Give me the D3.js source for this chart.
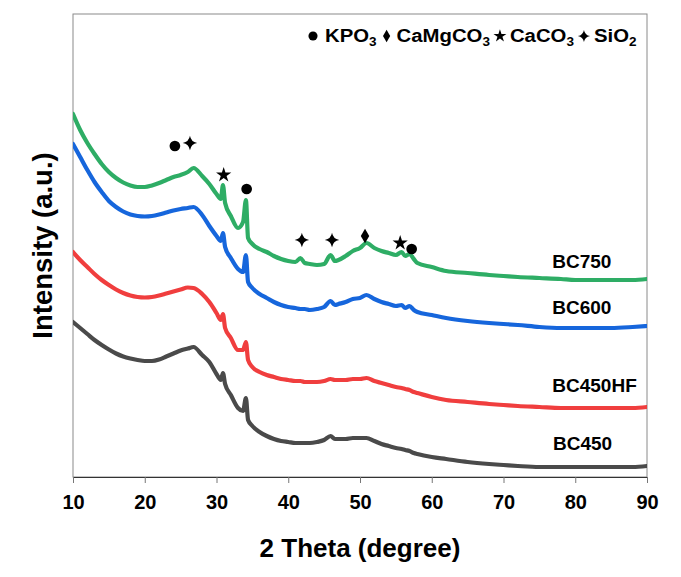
<!DOCTYPE html>
<html>
<head>
<meta charset="utf-8">
<script src="https://cdn.jsdelivr.net/npm/d3@7"></script>
<style>
  html, body { margin: 0; padding: 0; background: #ffffff; }
  svg { display: block; }
  text { font-family: "Liberation Sans", Arial, sans-serif; font-weight: bold; fill: #000; }
</style>
</head>
<body>
<svg id="chart" width="681" height="577"></svg>
<script>
// 2θ sampling positions (degree)
const theta = [10, 11, 12, 13, 14, 15, 16, 17, 18, 19, 20, 21, 22, 23, 24, 25, 26, 26.8, 28, 29,
  30, 30.6, 30.9, 31.2, 32, 33, 33.7, 34.1, 34.4, 35, 36, 37, 38, 39, 40, 41, 41.7, 42.3, 43, 44,
  45, 45.9, 46.5, 47, 48, 49, 50, 50.9, 52, 53, 54, 55, 55.8, 56.3, 56.9, 57.5, 58, 60, 62, 65,
  68, 70, 72, 75, 78, 80, 82, 85, 88, 90];

// Stacked diffraction intensities (a.u.)
const bc750 = [363, 347, 334, 323, 313, 305, 299, 294.5, 291.5, 290, 290, 291.5, 294, 297, 300, 302, 305, 309, 301, 293,
  283, 278, 292, 274, 261, 249, 255, 277, 239, 233, 228, 225, 221, 218, 216, 215, 219, 214, 213, 212,
  213, 222, 216, 217, 221, 226, 229, 234, 229, 226, 224, 222, 225, 221, 223, 218, 214, 210, 206, 204,
  202, 201, 200, 199, 198, 197, 197, 197, 197, 198];
const bc600 = [333, 320, 307, 295, 285, 276, 270, 265.5, 262.5, 261, 260.5, 261, 262.5, 264.5, 266.5, 268, 269, 270, 262, 251,
  241, 236, 244, 230, 219, 208, 205, 222, 195, 189, 183, 179, 175, 172, 170, 169, 168, 168, 167, 168,
  170, 176, 172, 173, 175, 178, 179, 182, 178, 175, 173, 171, 172, 169, 171, 167, 165, 162, 159, 156,
  154, 153, 152, 150, 149, 149, 149, 149, 150, 151];
const bc450hf = [225, 217, 210, 203, 197, 192, 187.5, 184, 181.5, 180, 179.5, 180, 181.5, 183.5, 185.5, 187.5, 189.5, 189, 183, 175,
  164, 157, 163, 149, 139, 127, 127, 135, 117, 110, 105, 102, 100, 98, 97, 96, 96, 95, 95, 95,
  96, 98, 97, 97, 97, 98, 98, 99, 96, 94, 92, 90, 89, 88, 87, 85, 84, 80, 77, 75,
  73, 72, 71, 70, 69, 69, 69, 69, 69, 70];
const bc450 = [155, 149, 143, 137, 132, 127.5, 123.5, 120.5, 118.5, 117, 116, 116, 117.5, 120.5, 123.5, 126.5, 128.5, 130, 122, 115,
  103, 97, 104, 93, 82, 69, 66, 79, 57, 51, 45, 41, 38, 36, 35, 34, 34, 34, 34, 35,
  37, 41, 38, 38, 38, 39, 39, 39, 36, 33, 31, 29, 28, 27, 26, 24, 23, 20, 18, 15,
  13, 12, 11, 10, 10, 10, 10, 10, 10, 11];

const seriesNames = ["BC750", "BC600", "BC450HF", "BC450"];
const seriesValues = [bc750, bc600, bc450hf, bc450];
const seriesColors = ["#2ead65", "#1666dc", "#f03e3e", "#4a4a4a"];
// where each series name sits (2θ, a.u.)
const labelTheta = [76.8, 76.8, 76.8, 76.9];
const labelLevel = [209.3, 162.7, 85.3, 27];

// Phase markers over the diffraction peaks
const markerPhase = ["KPO3", "SiO2", "CaCO3", "KPO3", "SiO2", "SiO2", "CaMgCO3", "CaCO3", "KPO3"];
const markerTheta = [24.2, 26.3, 31.0, 34.2, 41.9, 46.1, 50.7, 55.6, 57.2];
const markerLevel = [331, 334, 302, 288, 237, 237, 241, 234, 228];

// Legend entries
const legendPhase = ["KPO3", "CaMgCO3", "CaCO3", "SiO2"];
const legendName = ["KPO", "CaMgCO", "CaCO", "SiO"];
const legendSub = ["3", "3", "3", "2"];

const xTicks = [10, 20, 30, 40, 50, 60, 70, 80, 90];

const svg = d3.select("#chart");
const W = 681, H = 577;
const margin = { left: 73, right: 34, top: 14, bottom: 100 };
const plotW = W - margin.left - margin.right;
const plotH = H - margin.top - margin.bottom;

const x = d3.scaleLinear().domain([10, 90]).range([margin.left, margin.left + plotW]);
const y = d3.scaleLinear().domain([0, 463]).range([margin.top + plotH, margin.top]);

// 4-pointed sparkle used for SiO2
const sparkle = {
  draw(ctx, size) {
    const r = Math.sqrt(size) * 0.9;
    const k = r * 0.3;
    ctx.moveTo(0, -r);
    ctx.quadraticCurveTo(k * 0.5, -k * 0.5, r, 0);
    ctx.quadraticCurveTo(k * 0.5, k * 0.5, 0, r);
    ctx.quadraticCurveTo(-k * 0.5, k * 0.5, -r, 0);
    ctx.quadraticCurveTo(-k * 0.5, -k * 0.5, 0, -r);
    ctx.closePath();
  }
};
const phaseShape = {
  KPO3: d3.symbolCircle,
  CaMgCO3: d3.symbolDiamond,
  CaCO3: d3.symbolStar,
  SiO2: sparkle
};
const phaseSize = { KPO3: 90, CaMgCO3: 62, CaCO3: 72, SiO2: 64 };

// frame
svg.append("rect")
  .attr("x", margin.left).attr("y", margin.top)
  .attr("width", plotW).attr("height", plotH)
  .attr("fill", "none").attr("stroke", "#8a8a8a").attr("stroke-width", 1);

// x axis
const xAxis = d3.axisBottom(x).tickValues(xTicks).tickSize(6).tickPadding(12).tickFormat(d3.format("d"));
const gx = svg.append("g").attr("transform", `translate(0,${margin.top + plotH})`).call(xAxis);
gx.select(".domain").attr("stroke", "#333").attr("stroke-width", 1);
gx.selectAll(".tick line").attr("stroke", "#777");
gx.selectAll(".tick text")
  .style("font-family", "'Liberation Sans', Arial, sans-serif")
  .style("font-weight", "bold").style("font-size", "20px").attr("fill", "#000");

// curves
const line = d3.line()
  .x((d, i) => x(theta[i]))
  .y(d => y(d))
  .curve(d3.curveMonotoneX);
svg.append("clipPath").attr("id", "plotClip").append("rect")
  .attr("x", margin.left).attr("y", margin.top).attr("width", plotW).attr("height", plotH);
const curves = svg.append("g").attr("clip-path", "url(#plotClip)");
seriesValues.forEach((vals, k) => {
  curves.append("path")
    .attr("d", line(vals))
    .attr("fill", "none")
    .attr("stroke", seriesColors[k])
    .attr("stroke-width", 4.2)
    .attr("stroke-linejoin", "round")
    .attr("stroke-linecap", "round");
});

// series names
svg.append("g").selectAll("text").data(seriesNames).join("text")
  .attr("x", (d, i) => x(labelTheta[i]))
  .attr("y", (d, i) => y(labelLevel[i]))
  .attr("text-anchor", "start")
  .style("font-size", "19px")
  .text(d => d);

// phase markers
svg.append("g").selectAll("path").data(markerPhase).join("path")
  .attr("transform", (d, i) => `translate(${x(markerTheta[i])},${y(markerLevel[i])})`)
  .attr("d", d => d3.symbol().type(phaseShape[d]).size(phaseSize[d])())
  .attr("fill", "#000");

// legend: symbol, name with subscript, laid out left to right
const legend = svg.append("g");
const legendY = 42;
const stretch = 1.13;
let cursor = 313;
legendPhase.forEach((p, i) => {
  legend.append("path")
    .attr("transform", `translate(${cursor},${legendY - 6})`)
    .attr("d", d3.symbol().type(phaseShape[p]).size(phaseSize[p] * 0.72)())
    .attr("fill", "#000");
  const tx = cursor + (i === 0 ? 12 : 10);
  const t = legend.append("text")
    .attr("transform", `translate(${tx},${legendY}) scale(${stretch},1)`)
    .style("font-size", "18px");
  t.append("tspan").text(legendName[i]);
  t.append("tspan").attr("dy", 4).style("font-size", "12px").text(legendSub[i]);
  const bb = t.node().getBBox();
  cursor = tx + (bb.x + bb.width) * stretch + 10;
});

// axis titles
svg.append("text")
  .attr("x", x(50)).attr("y", 557)
  .attr("text-anchor", "middle")
  .style("font-size", "26px")
  .text("2 Theta (degree)");

svg.append("text")
  .attr("transform", `translate(52,${margin.top + plotH / 2}) rotate(-90)`)
  .attr("text-anchor", "middle")
  .style("font-size", "27.5px")
  .text("Intensity (a.u.)");
</script>
</body>
</html>
